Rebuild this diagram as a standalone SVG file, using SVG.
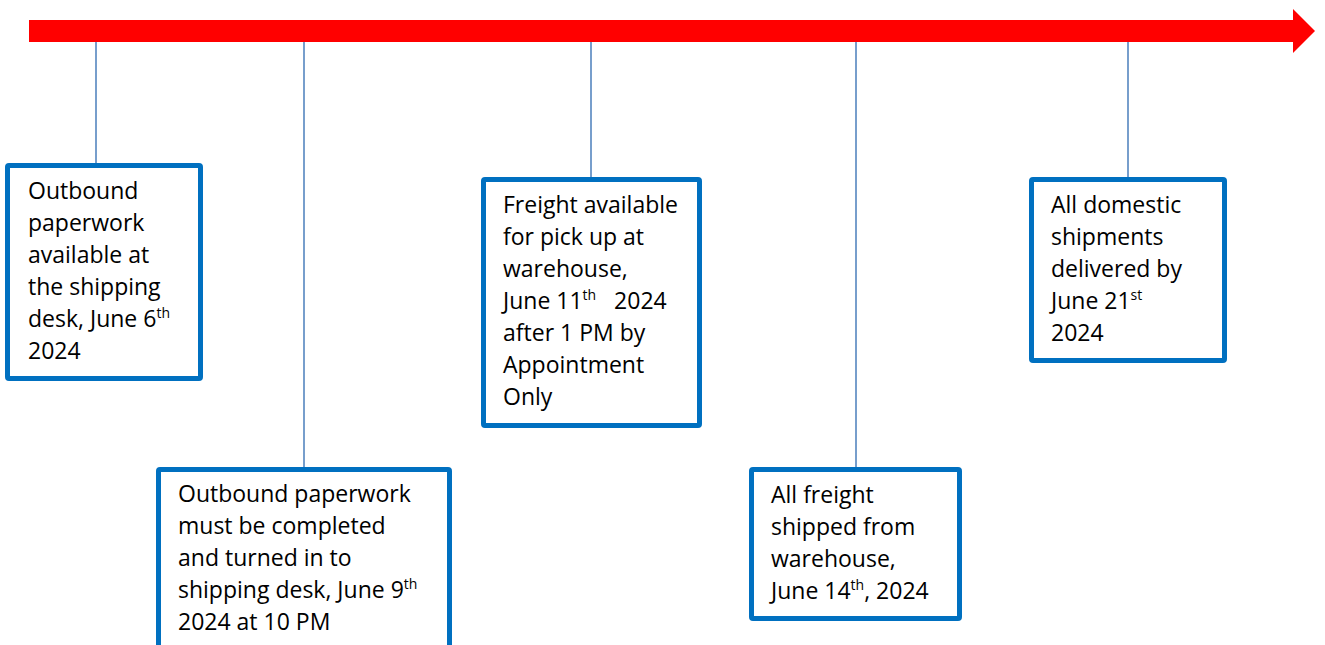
<svg xmlns="http://www.w3.org/2000/svg" width="1325" height="645" viewBox="0 0 1325 645">
<style>
.box{fill:#fff;stroke:#0070C0;stroke-width:5}
.t{font-family:"Open Sans","Liberation Sans",sans-serif;font-size:23px;fill:#000}
.sup{font-size:14px}
.conn{stroke:#4A7EBB;stroke-width:1.5;fill:none}
</style>
<rect width="1325" height="645" fill="#fff"/>
<polygon id="timeline" points="29,20 1293,20 1293,9 1315,31 1293,53 1293,42 29,42" fill="#FF0000"/>
<g id="connectors">
<line class="conn" x1="96" y1="42" x2="96" y2="165"/>
<line class="conn" x1="304" y1="42" x2="304" y2="469"/>
<line class="conn" x1="591" y1="42" x2="591" y2="179"/>
<line class="conn" x1="856" y1="42" x2="856" y2="469"/>
<line class="conn" x1="1128" y1="42" x2="1128" y2="179"/>
</g>
<g id="node1">
<rect class="box" x="7.5" y="165.5" width="193" height="213" rx="1.5"/>
<text class="t" x="28" y="199">Outbound</text>
<text class="t" x="28" y="231">paperwork</text>
<text class="t" x="28" y="263">available at</text>
<text class="t" x="28" y="295">the shipping</text>
<text class="t" x="28" y="327">desk, June 6<tspan class="sup" dy="-9">th</tspan></text>
<text class="t" x="28" y="359">2024</text>
</g>
<g id="node2">
<rect class="box" x="158.5" y="469.5" width="291" height="190" rx="1.5"/>
<text class="t" x="178" y="502">Outbound paperwork</text>
<text class="t" x="178" y="534">must be completed</text>
<text class="t" x="178" y="566">and turned in to</text>
<text class="t" x="178" y="598">shipping desk, June 9<tspan class="sup" dy="-9">th</tspan></text>
<text class="t" x="178" y="630">2024 at 10 PM</text>
</g>
<g id="node3">
<rect class="box" x="483.5" y="179.5" width="216" height="246" rx="1.5"/>
<text class="t" x="503" y="213">Freight available</text>
<text class="t" x="503" y="245">for pick up at</text>
<text class="t" x="503" y="277">warehouse,</text>
<text class="t" x="503" y="309" xml:space="preserve">June 11<tspan class="sup" dy="-9">th</tspan><tspan dy="9">   2024</tspan></text>
<text class="t" x="503" y="341">after 1 PM by</text>
<text class="t" x="503" y="373">Appointment</text>
<text class="t" x="503" y="405">Only</text>
</g>
<g id="node4">
<rect class="box" x="751.5" y="469.5" width="208" height="149" rx="1.5"/>
<text class="t" x="771" y="503">All freight</text>
<text class="t" x="771" y="535">shipped from</text>
<text class="t" x="771" y="567">warehouse,</text>
<text class="t" x="771" y="599">June 14<tspan class="sup" dy="-9">th</tspan><tspan dy="9">, 2024</tspan></text>
</g>
<g id="node5">
<rect class="box" x="1031.5" y="179.5" width="193" height="181" rx="1.5"/>
<text class="t" x="1051" y="213">All domestic</text>
<text class="t" x="1051" y="245">shipments</text>
<text class="t" x="1051" y="277">delivered by</text>
<text class="t" x="1051" y="309">June 21<tspan class="sup" dy="-9">st</tspan></text>
<text class="t" x="1051" y="341">2024</text>
</g>
</svg>
